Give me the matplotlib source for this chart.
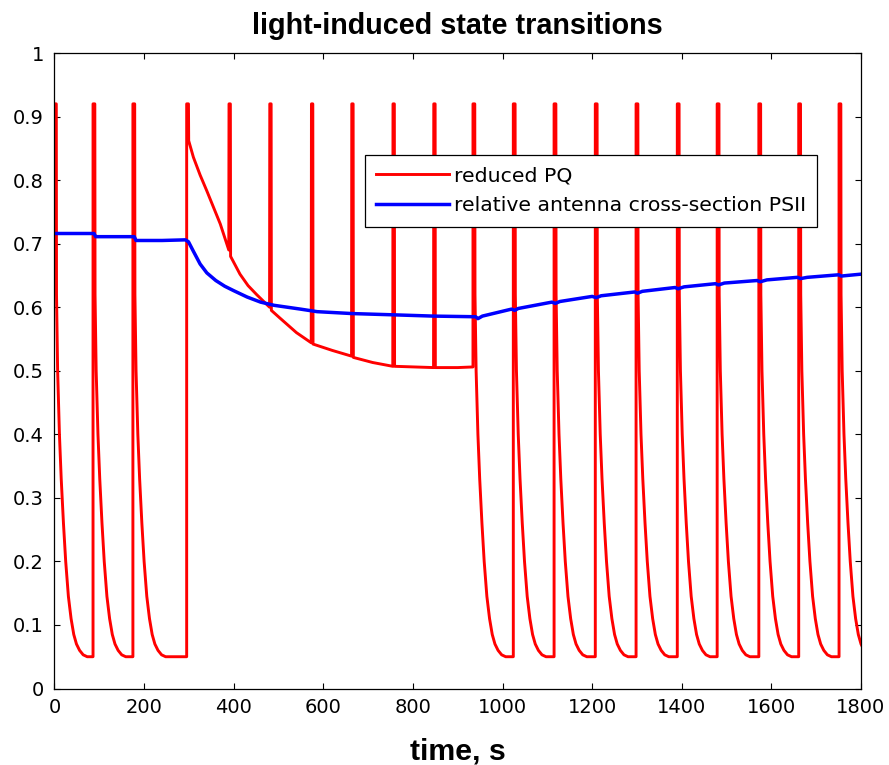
import matplotlib
matplotlib.use("Agg")
import matplotlib.pyplot as plt
import numpy as np

# flash onsets (s) in the dark phases, red trace falls back to ~0.05 after each
flash_dark = [0, 86, 175, 934, 1024, 1115, 1207, 1298, 1390, 1479, 1572, 1661, 1751]

# shape of one dark flash response (s after onset, value)
decay_dt = [0, 4, 4.5, 7, 11, 15, 20, 25, 31, 37, 43, 49, 56, 64, 73]
decay_val = [0.92, 0.92, 0.62, 0.50, 0.40, 0.33, 0.26, 0.20, 0.145, 0.11, 0.085, 0.07, 0.06, 0.053, 0.05]

# light phase (~295-935 s), flashes on top of a slowly falling level
light_t = [295, 299, 299.5, 310, 325, 340, 355, 370, 389,
           389.5, 392.5, 393, 414, 432, 451, 480,
           480.5, 483.5, 484, 503, 540, 573,
           573.5, 576.5, 577, 620, 663,
           663.5, 666.5, 667, 710, 755,
           755.5, 758.5, 759, 800, 846,
           846.5, 849.5, 850, 900, 934]
light_v = [0.92, 0.92, 0.862, 0.836, 0.808, 0.783, 0.757, 0.731, 0.69,
           0.92, 0.92, 0.68, 0.652, 0.634, 0.62, 0.60,
           0.92, 0.92, 0.595, 0.583, 0.56, 0.544,
           0.92, 0.92, 0.542, 0.532, 0.523,
           0.92, 0.92, 0.521, 0.513, 0.507,
           0.92, 0.92, 0.507, 0.506, 0.505,
           0.92, 0.92, 0.505, 0.505, 0.506]

# relative antenna cross-section PSII
blue_t = [0, 88, 92, 178, 182, 240, 292, 299, 310, 325, 340, 360, 380, 400, 430, 460, 490,
          549, 586, 664, 757, 846, 940, 945, 955, 1020, 1027, 1035, 1110, 1118, 1128, 1200,
          1209, 1220, 1295, 1301, 1312, 1385, 1392, 1405, 1475, 1482, 1495, 1568, 1575, 1590,
          1658, 1665, 1680, 1750, 1756, 1770, 1800]
blue_v = [0.716, 0.716, 0.711, 0.711, 0.705, 0.705, 0.706, 0.703, 0.688, 0.668, 0.654, 0.642,
          0.633, 0.626, 0.616, 0.608, 0.603, 0.597, 0.593, 0.590, 0.588, 0.586, 0.585, 0.582,
          0.586, 0.597, 0.595, 0.598, 0.608, 0.606, 0.609, 0.617, 0.615, 0.618, 0.624, 0.622,
          0.625, 0.631, 0.629, 0.632, 0.637, 0.635, 0.638, 0.642, 0.640, 0.643, 0.647, 0.645,
          0.647, 0.651, 0.649, 0.650, 0.652]

x_ticks = list(range(0, 1801, 200))
y_ticks = [0, 0.1, 0.2, 0.3, 0.4, 0.5, 0.6, 0.7, 0.8, 0.9, 1]
y_labels = ["0", "0.1", "0.2", "0.3", "0.4", "0.5", "0.6", "0.7", "0.8", "0.9", "1"]


def build_red():
    segs = [(t0 + np.array(decay_dt), np.array(decay_val)) for t0 in flash_dark]
    segs.append((np.array(light_t, dtype=float), np.array(light_v)))
    segs.sort(key=lambda s: s[0][0])
    red_t, red_v = [], []
    for st, sv in segs:
        if red_t:
            # hold the last level until the next flash
            red_t.append(st[0])
            red_v.append(red_v[-1])
        red_t.extend(st)
        red_v.extend(sv)
    return red_t, red_v


def main():
    red_t, red_v = build_red()

    fig = plt.figure(figsize=(8.89, 7.65), dpi=100)
    ax = fig.add_axes([0.0613, 0.1, 0.9072, 0.8307])

    ax.plot(red_t, red_v, color=(1, 0, 0), lw=2.1, label="reduced PQ")
    ax.plot(blue_t, blue_v, color=(0, 0, 1), lw=2.5, label="relative antenna cross-section PSII")

    ax.set_xlim(0, 1800)
    ax.set_ylim(0, 1)
    ax.set_xticks(x_ticks)
    ax.set_yticks(y_ticks)
    ax.set_yticklabels(y_labels)
    ax.tick_params(direction="in", length=4.5, width=0.8, labelsize=14,
                   top=True, right=True, colors="black")
    ax.tick_params(axis="x", pad=6.5)
    ax.tick_params(axis="y", pad=7.5)
    for sp in ax.spines.values():
        sp.set_linewidth(0.9)
        sp.set_color("black")
    for lab in ax.get_xticklabels() + ax.get_yticklabels():
        lab.set_family("DejaVu Sans")

    ax.set_title("light-induced state transitions", fontsize=20.7, fontweight="bold",
                 family="Liberation Sans", pad=14)
    ax.set_xlabel("time, s", fontsize=21.8, fontweight="bold", family="Liberation Sans")
    ax.xaxis.label.set_va("baseline")
    ax.xaxis.set_label_coords(0.5, -0.111)

    leg = ax.legend(loc="upper right", bbox_to_anchor=(0.9454, 0.8395), borderaxespad=0,
                    fancybox=False, framealpha=1, edgecolor="black",
                    prop={"family": "DejaVu Sans", "size": 14.7},
                    handlelength=3.55, handletextpad=0.25, borderpad=0.55, labelspacing=0.55)
    leg.get_frame().set_linewidth(0.9)

    fig.savefig("out.png", dpi=100, facecolor="white")


if __name__ == "__main__":
    main()
